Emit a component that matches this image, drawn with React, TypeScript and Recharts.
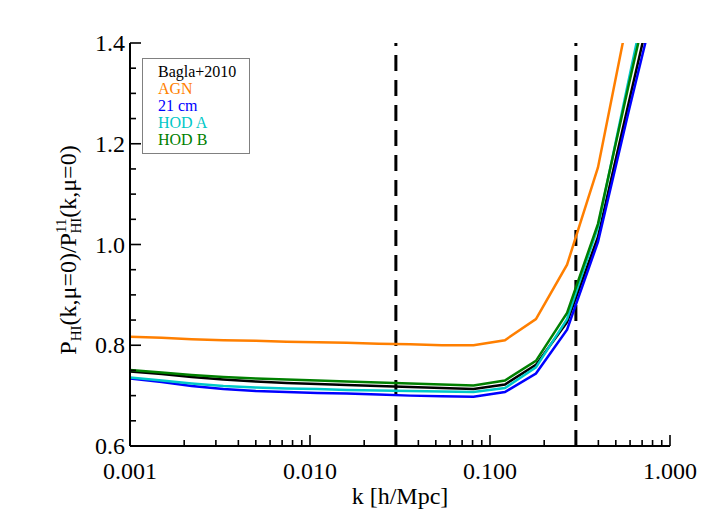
import { Legend, Line, LineChart, ReferenceLine, XAxis, YAxis } from 'recharts';

const FONT = '"Liberation Serif", "Times New Roman", serif';

// wavenumbers k [h/Mpc] at which the ratios were tabulated
const kValues = [
  0.001, 0.0015, 0.0022, 0.0033, 0.005, 0.0074, 0.011, 0.016, 0.024,
  0.036, 0.054, 0.081, 0.121, 0.18, 0.268, 0.398, 0.59, 0.88,
];

const bagla = [
  0.748, 0.743, 0.737, 0.732, 0.728, 0.725, 0.723, 0.721, 0.719,
  0.717, 0.715, 0.713, 0.722, 0.761, 0.846, 1.015, 1.282, 1.55,
];
const agn = [
  0.817, 0.815, 0.812, 0.81, 0.809, 0.807, 0.806, 0.805, 0.803,
  0.802, 0.8, 0.8, 0.81, 0.852, 0.96, 1.153, 1.46, 1.8,
];
const cm21 = [
  0.734, 0.727, 0.719, 0.713, 0.709, 0.707, 0.705, 0.704, 0.702,
  0.7, 0.699, 0.698, 0.707, 0.744, 0.831, 1.005, 1.265, 1.52,
];
const hodA = [
  0.736, 0.73, 0.724, 0.719, 0.716, 0.714, 0.713, 0.711, 0.71,
  0.709, 0.708, 0.707, 0.715, 0.756, 0.852, 1.035, 1.327, 1.62,
];
const hodB = [
  0.751, 0.746, 0.741, 0.737, 0.734, 0.732, 0.73, 0.728, 0.726,
  0.724, 0.722, 0.72, 0.73, 0.769, 0.864, 1.041, 1.317, 1.59,
];

const seriesNames = ['Bagla+2010', 'AGN', '21 cm', 'HOD A', 'HOD B'];
const seriesKeys = ['bagla', 'agn', 'cm21', 'hodA', 'hodB'];
const seriesColors = ['#000000', '#ff7f00', '#0000ff', '#00c8c8', '#008000'];

// scale limits shown as dashed verticals
const kCuts = [0.03, 0.3];

const xMajorTicks = [0.001, 0.01, 0.1, 1];
const xMinorSteps = [2, 3, 4, 5, 6, 7, 8, 9];
const yMajorTicks = [0.6, 0.8, 1.0, 1.2, 1.4];
const yMinorTicks = [0.65, 0.7, 0.75, 0.85, 0.9, 0.95, 1.05, 1.1, 1.15, 1.25, 1.3, 1.35];

const xTicks = [
  ...xMajorTicks,
  ...xMajorTicks.slice(0, -1).flatMap((d) => xMinorSteps.map((m) => +(d * m).toPrecision(3))),
].sort((a, b) => a - b);
const yTicks = [...yMajorTicks, ...yMinorTicks].sort((a, b) => a - b);

const data = kValues.map((k, i) => ({
  k,
  bagla: bagla[i],
  agn: agn[i],
  cm21: cm21[i],
  hodA: hodA[i],
  hodB: hodB[i],
}));

const isMajorX = (v: number) => xMajorTicks.includes(v);
const isMajorY = (v: number) => yMajorTicks.some((t) => Math.abs(t - v) < 1e-9);

// inward tick marks, IDL style
function BottomTick(props: any) {
  const { x, y, payload } = props;
  const major = isMajorX(payload.value);
  return (
    <g>
      <line x1={x} x2={x} y1={y} y2={y - (major ? 11 : 6)} stroke="#000" strokeWidth={1.6} />
      {major && (
        <text x={x} y={y + 33} textAnchor="middle" fontSize={24} fontFamily={FONT} fill="#000">
          {payload.value.toFixed(3)}
        </text>
      )}
    </g>
  );
}

function TopTick(props: any) {
  const { x, y, payload } = props;
  const major = isMajorX(payload.value);
  return <line x1={x} x2={x} y1={y} y2={y + (major ? 11 : 6)} stroke="#000" strokeWidth={1.6} />;
}

function LeftTick(props: any) {
  const { x, y, payload } = props;
  const major = isMajorY(payload.value);
  return (
    <g>
      <line x1={x} x2={x + (major ? 11 : 6)} y1={y} y2={y} stroke="#000" strokeWidth={1.6} />
      {major && (
        <text x={x - 5} y={y + 8} textAnchor="end" fontSize={24} fontFamily={FONT} fill="#000">
          {payload.value.toFixed(1)}
        </text>
      )}
    </g>
  );
}

function RightTick(props: any) {
  const { x, y, payload } = props;
  const major = isMajorY(payload.value);
  return <line x1={x} x2={x - (major ? 11 : 6)} y1={y} y2={y} stroke="#000" strokeWidth={1.6} />;
}

function YTitle() {
  return (
    <text
      transform="translate(76,250) rotate(-90)"
      textAnchor="middle"
      fontSize={24}
      fontFamily={FONT}
      fill="#000"
    >
      <tspan>P</tspan>
      <tspan fontSize={15} dy={5}>HI</tspan>
      <tspan dy={-5}>(k,μ=0)/P</tspan>
      <tspan fontSize={15} dy={-10}>11</tspan>
      <tspan fontSize={15} dx={-15} dy={15}>HI</tspan>
      <tspan dy={-5}>(k,μ=0)</tspan>
    </text>
  );
}

function LegendBox({ payload }: any) {
  const items = [...(payload ?? [])].sort(
    (a: any, b: any) => seriesNames.indexOf(a.value) - seriesNames.indexOf(b.value),
  );
  return (
    <div
      style={{
        border: '1px solid #808080',
        padding: '4px 12px 5px 15px',
        width: 79,
        fontFamily: FONT,
        fontSize: 16,
        lineHeight: '17px',
        background: '#fff',
      }}
    >
      {items.map((it: any) => (
        <div key={it.value} style={{ color: it.color, whiteSpace: 'nowrap' }}>
          {it.value}
        </div>
      ))}
    </div>
  );
}

export default function App() {
  return (
    <div style={{ marginLeft: -8, marginTop: -8, width: 709, height: 532, background: '#fff' }}>
      <LineChart width={709} height={532} data={data} margin={{ top: 43, right: 39, bottom: 26, left: 40 }}>
        <XAxis
          dataKey="k"
          type="number"
          scale="log"
          domain={[0.001, 1]}
          allowDataOverflow
          ticks={xTicks}
          interval={0}
          tickSize={0}
          tickMargin={0}
          tick={<BottomTick />}
          axisLine={{ stroke: '#000', strokeWidth: 2 }}
          height={60}
          label={{
            value: 'k [h/Mpc]',
            position: 'insideBottom',
            offset: 2,
            fontSize: 24,
            fontFamily: FONT,
            fill: '#000',
          }}
        />
        <XAxis
          xAxisId="top"
          orientation="top"
          dataKey="k"
          type="number"
          scale="log"
          domain={[0.001, 1]}
          allowDataOverflow
          ticks={xTicks}
          interval={0}
          tickSize={0}
          tickMargin={0}
          tick={<TopTick />}
          axisLine={{ stroke: '#000', strokeWidth: 2 }}
          height={0}
        />
        <YAxis
          type="number"
          domain={[0.6, 1.4]}
          allowDataOverflow
          ticks={yTicks}
          interval={0}
          tickSize={0}
          tickMargin={0}
          tick={<LeftTick />}
          axisLine={{ stroke: '#000', strokeWidth: 2 }}
          width={90}
          label={{ content: () => <YTitle /> }}
        />
        <YAxis
          yAxisId="right"
          orientation="right"
          type="number"
          domain={[0.6, 1.4]}
          allowDataOverflow
          ticks={yTicks}
          interval={0}
          tickSize={0}
          tickMargin={0}
          tick={<RightTick />}
          axisLine={{ stroke: '#000', strokeWidth: 2 }}
          width={0}
        />
        {kCuts.map((k) => (
          <ReferenceLine key={k} x={k} stroke="#000" strokeWidth={3} strokeDasharray="16 9" />
        ))}
        {seriesKeys.map((key, i) => (
          <Line
            key={key}
            dataKey={key}
            name={seriesNames[i]}
            stroke={seriesColors[i]}
            strokeWidth={2.5}
            dot={false}
            type="linear"
            isAnimationActive={false}
          />
        ))}
        <Legend
          layout="horizontal"
          verticalAlign="middle"
          align="center"
          content={<LegendBox />}
          wrapperStyle={{ position: 'absolute', left: 142, top: 58, width: 'auto', height: 'auto', bottom: 'auto' }}
        />
      </LineChart>
    </div>
  );
}
